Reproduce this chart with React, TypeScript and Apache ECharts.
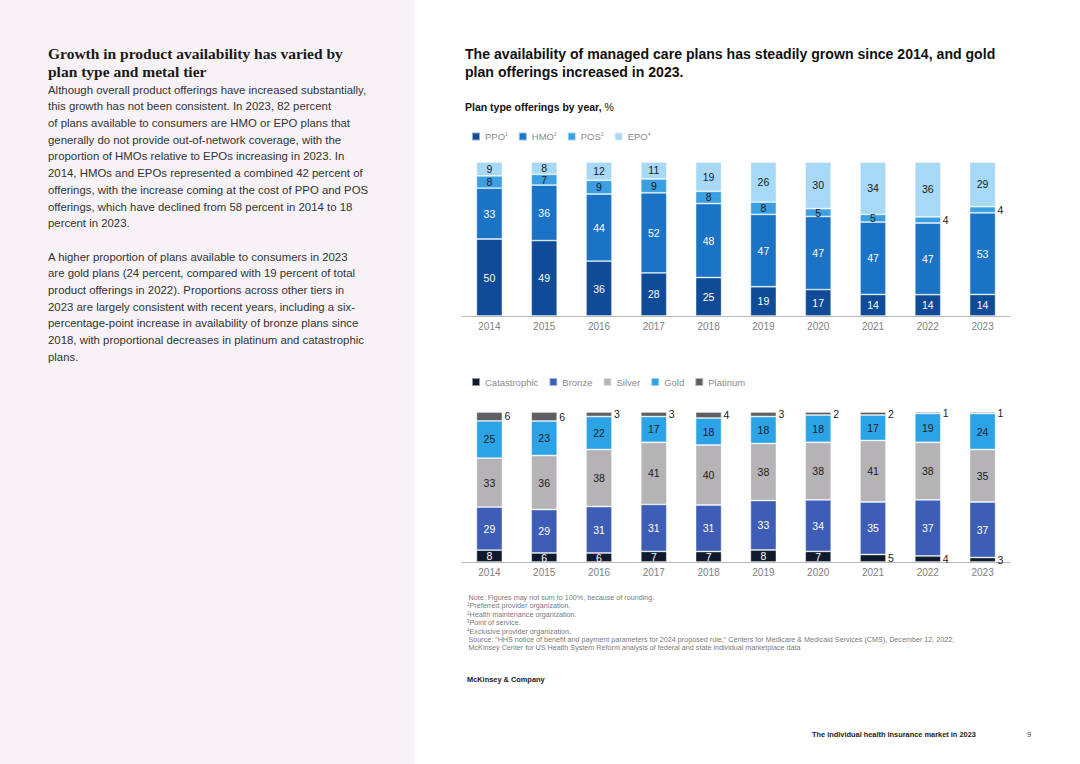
import React, { useEffect, useRef } from "react";
import * as echarts from "echarts";

const years = ["2014", "2015", "2016", "2017", "2018", "2019", "2020", "2021", "2022", "2023"];

// Plan type offerings by year, %
const ppo = [50, 49, 36, 28, 25, 19, 17, 14, 14, 14];
const hmo = [33, 36, 44, 52, 48, 47, 47, 47, 47, 53];
const pos = [8, 7, 9, 9, 8, 8, 5, 5, 4, 4];
const epo = [9, 8, 12, 11, 19, 26, 30, 34, 36, 29];

// Metal tier offerings by year, %
const catastrophic = [8, 6, 6, 7, 7, 8, 7, 5, 4, 3];
const bronze = [29, 29, 31, 31, 31, 33, 34, 35, 37, 37];
const silver = [33, 36, 38, 41, 40, 38, 38, 41, 38, 35];
const gold = [25, 23, 22, 17, 18, 18, 18, 17, 19, 24];
const platinum = [6, 6, 3, 3, 4, 3, 2, 2, 1, 1];

const planLegend = [
  { name: "PPO", sup: "1" },
  { name: "HMO", sup: "2" },
  { name: "POS", sup: "3" },
  { name: "EPO", sup: "4" },
];

const FONT = "'Liberation Sans', Arial, Helvetica, sans-serif";
const DARK = "#1b1b1b";

const planTotals = years.map((_, i) => ppo[i] + hmo[i] + pos[i] + epo[i]);
const metalTotals = years.map(
  (_, i) => catastrophic[i] + bronze[i] + silver[i] + gold[i] + platinum[i]
);

// Bars are drawn as shares of each year's total (so every column is full height),
// while labels show the published rounded values.
function makeData(values: number[], totals: number[], insideColor: string, outsideMax: number) {
  return values.map((v, i) => {
    const share = (v / totals[i]) * 100;
    const label =
      v <= outsideMax
        ? { position: "right", distance: 2, color: DARK, formatter: String(v) }
        : { position: "inside", color: insideColor, formatter: String(v) };
    return { value: share, label };
  });
}

function barSeries(
  name: string,
  values: number[],
  totals: number[],
  color: string,
  idx: number,
  stack: string,
  insideColor: string,
  outsideMax: number
) {
  return {
    type: "bar",
    name,
    stack,
    xAxisIndex: idx,
    yAxisIndex: idx,
    barWidth: 26,
    itemStyle: { color, borderColor: "rgba(255,255,255,0.55)", borderWidth: 0.8 },
    label: { show: true, fontSize: 10.5, fontFamily: FONT },
    data: makeData(values, totals, insideColor, outsideMax),
  };
}

const xAxisBase = {
  type: "category",
  data: years,
  axisTick: { show: false },
  axisLine: { lineStyle: { color: "#b8b8b8", width: 1 } },
  axisLabel: { color: "#808080", fontSize: 10, fontFamily: FONT, margin: 5 },
};

const yAxisBase = {
  type: "value",
  min: 0,
  max: 100,
  show: false,
  splitLine: { show: false },
};

function buildOption() {
  const supMap: Record<string, string> = {};
  planLegend.forEach((p) => (supMap[p.name] = p.sup));
  return {
    animation: false,
    textStyle: { fontFamily: FONT },
    legend: [
      {
        data: planLegend.map((p) => p.name),
        left: 471,
        top: 131,
        padding: 0,
        itemWidth: 8,
        itemHeight: 8,
        itemGap: 10,
        icon: "rect",
        textStyle: {
          color: "#8a8a8a",
          fontSize: 9.5,
          fontFamily: FONT,
          rich: {
            n: { color: "#8a8a8a", fontSize: 9.5, fontFamily: FONT },
            s: { color: "#8a8a8a", fontSize: 5, fontFamily: FONT, padding: [0, 0, 6, 0] },
          },
        },
        formatter: (name: string) => `{n|${name}}{s|${supMap[name] || ""}}`,
      },
      {
        data: ["Catastrophic", "Bronze", "Silver", "Gold", "Platinum"],
        left: 471,
        top: 377,
        padding: 0,
        itemWidth: 8,
        itemHeight: 8,
        itemGap: 10,
        icon: "rect",
        textStyle: { color: "#8a8a8a", fontSize: 9.5, fontFamily: FONT },
      },
    ],
    grid: [
      { left: 462, width: 548, top: 162, height: 154 },
      { left: 462, width: 548, top: 412, height: 150 },
    ],
    xAxis: [
      { ...xAxisBase, gridIndex: 0 },
      { ...xAxisBase, gridIndex: 1 },
    ],
    yAxis: [
      { ...yAxisBase, gridIndex: 0 },
      { ...yAxisBase, gridIndex: 1 },
    ],
    series: [
      barSeries("PPO", ppo, planTotals, "#0f4b96", 0, "plan", "#ffffff", 0),
      barSeries("HMO", hmo, planTotals, "#1b73c5", 0, "plan", "#ffffff", 0),
      barSeries("POS", pos, planTotals, "#3b9fe1", 0, "plan", DARK, 4),
      barSeries("EPO", epo, planTotals, "#a7d8f5", 0, "plan", DARK, 0),
      barSeries("Catastrophic", catastrophic, metalTotals, "#0f1a2c", 1, "metal", "#ffffff", 5),
      barSeries("Bronze", bronze, metalTotals, "#3e5db6", 1, "metal", "#ffffff", 0),
      barSeries("Silver", silver, metalTotals, "#b5b3b5", 1, "metal", DARK, 0),
      barSeries("Gold", gold, metalTotals, "#2ca3e7", 1, "metal", DARK, 0),
      barSeries("Platinum", platinum, metalTotals, "#5f5f63", 1, "metal", DARK, 100),
    ],
  };
}

const bodyP1 = [
  "Although overall product offerings have increased substantially,",
  "this growth has not been consistent. In 2023, 82 percent",
  "of plans available to consumers are HMO or EPO plans that",
  "generally do not provide out-of-network coverage, with the",
  "proportion of HMOs relative to EPOs increasing in 2023. In",
  "2014, HMOs and EPOs represented a combined 42 percent of",
  "offerings, with the increase coming at the cost of PPO and POS",
  "offerings, which have declined from 58 percent in 2014 to 18",
  "percent in 2023.",
];
const bodyP2 = [
  "A higher proportion of plans available to consumers in 2023",
  "are gold plans (24 percent, compared with 19 percent of total",
  "product offerings in 2022). Proportions across other tiers in",
  "2023 are largely consistent with recent years, including a six-",
  "percentage-point increase in availability of bronze plans since",
  "2018, with proportional decreases in platinum and catastrophic",
  "plans.",
];

const notes = [
  { sup: "", text: "Note: Figures may not sum to 100%, because of rounding." },
  { sup: "1", text: "Preferred provider organization." },
  { sup: "2", text: "Health maintenance organization." },
  { sup: "3", text: "Point of service." },
  { sup: "4", text: "Exclusive provider organization." },
  {
    sup: "",
    text: "Source: \u201cHHS notice of benefit and payment parameters for 2024 proposed rule,\u201d Centers for Medicare & Medicaid Services (CMS), December 12, 2022;",
  },
  { sup: "", text: "McKinsey Center for US Health System Reform analysis of federal and state individual marketplace data" },
];

export default function App() {
  const ref = useRef<HTMLDivElement>(null);
  useEffect(() => {
    if (!ref.current) return;
    const chart = echarts.init(ref.current, null, { renderer: "svg" });
    chart.setOption(buildOption() as any);
    return () => chart.dispose();
  }, []);

  const abs = (s: React.CSSProperties): React.CSSProperties => ({ position: "absolute", margin: 0, ...s });

  return (
    <div
      style={{
        position: "fixed",
        left: 0,
        top: 0,
        width: 1080,
        height: 764,
        background: "#ffffff",
        overflow: "hidden",
        fontFamily: FONT,
      }}
    >
      <div style={abs({ left: 0, top: 0, width: 414, height: 764, background: "#f6f2f6" })} />
      <div
        style={abs({
          left: 48,
          top: 45,
          fontFamily: "'Liberation Serif', 'Times New Roman', serif",
          fontWeight: 700,
          fontSize: 15.5,
          lineHeight: "17.7px",
          color: "#1a1a1a",
          whiteSpace: "nowrap",
        })}
      >
        <div>Growth in product availability has varied by</div>
        <div>plan type and metal tier</div>
      </div>
      <div
        style={abs({
          left: 48,
          top: 81.6,
          fontSize: 11.4,
          lineHeight: "16.7px",
          color: "#333333",
          whiteSpace: "nowrap",
        })}
      >
        {bodyP1.map((l, i) => (
          <div key={"a" + i}>{l}</div>
        ))}
        <div>&nbsp;</div>
        {bodyP2.map((l, i) => (
          <div key={"b" + i}>{l}</div>
        ))}
      </div>

      <div ref={ref} style={abs({ left: 0, top: 0, width: 1080, height: 764 })} />

      <div
        style={abs({
          left: 465,
          top: 45,
          fontSize: 14.1,
          fontWeight: 700,
          lineHeight: "18px",
          color: "#111111",
          whiteSpace: "nowrap",
        })}
      >
        <div>The availability of managed care plans has steadily grown since 2014, and gold</div>
        <div>plan offerings increased in 2023.</div>
      </div>
      <div style={abs({ left: 465, top: 99.5, fontSize: 10.5, lineHeight: "14px", color: "#111111", whiteSpace: "nowrap" })}>
        <span style={{ fontWeight: 700 }}>Plan type offerings by year,</span> %
      </div>

      <div style={abs({ left: 467, top: 594, fontSize: 7.2, lineHeight: "8.4px", color: "#7a7a7a", whiteSpace: "nowrap" })}>
        {notes.map((n, i) => (
          <div key={i} style={{ paddingLeft: n.sup ? 0 : 1.5 }}>
            {n.sup ? <sup style={{ fontSize: 4.5, verticalAlign: "top", lineHeight: "6px" }}>{n.sup}</sup> : null}
            {n.text}
          </div>
        ))}
      </div>
      <div style={abs({ left: 467, top: 675, fontSize: 7.4, fontWeight: 700, lineHeight: "10px", color: "#222222", whiteSpace: "nowrap" })}>
        McKinsey &amp; Company
      </div>
      <div style={abs({ left: 812, top: 730, fontSize: 7.4, fontWeight: 700, lineHeight: "10px", color: "#222222", whiteSpace: "nowrap" })}>
        The individual health insurance market in 2023
      </div>
      <div style={abs({ left: 1027, top: 730, fontSize: 7.6, lineHeight: "10px", color: "#444444", whiteSpace: "nowrap" })}>
        9
      </div>
    </div>
  );
}
